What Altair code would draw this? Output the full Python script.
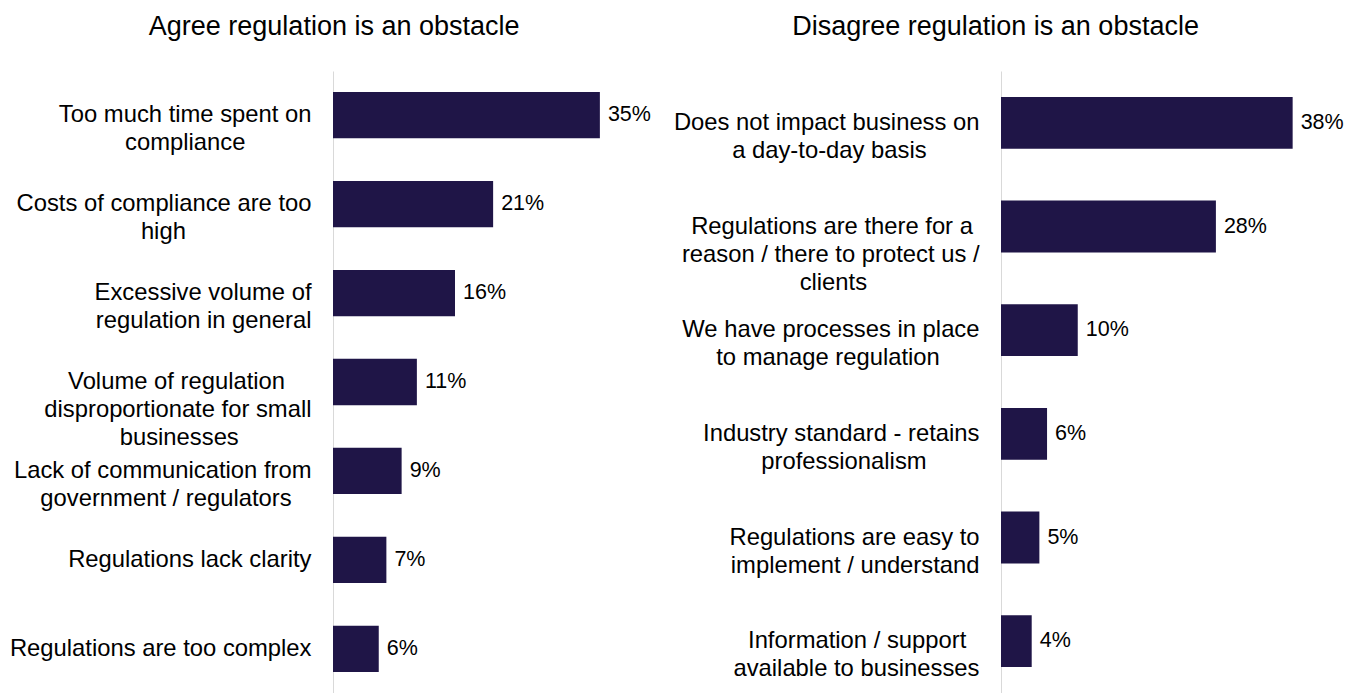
import altair as alt
import pandas as pd

# ---- data ----
agree_title = "Agree regulation is an obstacle"
agree_labels = [
    "Too much time spent on|compliance",
    "Costs of compliance are too|high",
    "Excessive volume of|regulation in general",
    "Volume of regulation|disproportionate for small|businesses",
    "Lack of communication from|government / regulators",
    "Regulations lack clarity",
    "Regulations are too complex",
]
agree_values = [35, 21, 16, 11, 9, 7, 6]

disagree_title = "Disagree regulation is an obstacle"
disagree_labels = [
    "Does not impact business on|a day-to-day basis",
    "Regulations are there for a|reason / there to protect us /|clients",
    "We have processes in place|to manage regulation",
    "Industry standard - retains|professionalism",
    "Regulations are easy to|implement / understand",
    "Information / support|available to businesses",
]
disagree_values = [38, 28, 10, 6, 5, 4]

FONT = "Liberation Sans"
BAR = "#1f1547"
TEXT = "#000000"

# approximate Arial advance widths (per 1000 em) used to centre lines in a right-aligned block
ARIAL = {
    " ": 278, "\u00a0": 278, "a": 556, "b": 556, "c": 500, "d": 556, "e": 556, "f": 278,
    "g": 556, "h": 556, "i": 222, "j": 222, "k": 500, "l": 222, "m": 833, "n": 556,
    "o": 556, "p": 556, "q": 556, "r": 333, "s": 500, "t": 278, "u": 556, "v": 500,
    "w": 722, "x": 500, "y": 500, "z": 500, "A": 667, "B": 667, "C": 722, "D": 722,
    "E": 667, "F": 611, "G": 778, "H": 722, "I": 278, "L": 556, "R": 722, "T": 611,
    "V": 667, "W": 944, "/": 278, "-": 333, "%": 889,
}


def text_w(s):
    return sum(ARIAL.get(c, 556) for c in s)


def center_lines(label):
    # centre each line inside a right-aligned block: pad shorter lines with
    # no-break spaces, closed by a zero-width space so they are not trimmed
    lines = label.split("|")
    W = max(text_w(l) for l in lines)
    out = []
    for l in lines:
        n = int(round((W - text_w(l)) / 2 / 278))
        out.append(l + "\u00a0" * n + ("\u200b" if n else ""))
    return "|".join(out)


def panel(title, labels, values, width, pad_inner, pad_outer, dx):
    cats = [center_lines(l) for l in labels]
    df = pd.DataFrame({"cat": cats, "value": values})
    y = alt.Y(
        "cat:N",
        sort=cats,
        title=None,
        scale=alt.Scale(paddingInner=pad_inner, paddingOuter=pad_outer),
        axis=alt.Axis(
            labelExpr="split(datum.label, '|')",
            labelFont=FONT,
            labelFontSize=23.8,
            labelColor=TEXT,
            labelLineHeight=28,
            labelPadding=22,
            labelLimit=600,
            ticks=False,
            grid=False,
            domainColor="#d9d9d9",
            domainWidth=1,
        ),
    )
    x = alt.X("value:Q", scale=alt.Scale(domain=[0, 40]), axis=None)
    base = alt.Chart(df)
    bars = base.mark_bar(color=BAR).encode(x=x, y=y)
    txt = (
        base.mark_text(align="left", baseline="middle", dx=8, font=FONT, fontSize=21.5, color=TEXT)
        .transform_calculate(lbl="datum.value + '%'")
        .encode(x=x, y=y, text="lbl:N")
    )
    return alt.layer(bars, txt).properties(
        width=width,
        height=622,
        title=alt.TitleParams(
            title,
            font=FONT,
            fontSize=27,
            fontWeight="normal",
            color=TEXT,
            anchor="middle",
            frame="bounds",
            offset=30,
            dx=dx,
        ),
    )


left = panel(agree_title, agree_labels, agree_values, 305, 0.48, 0.236, 4)
right = panel(disagree_title, disagree_labels, disagree_values, 307, 0.5, 0.25, -13)

chart = (
    alt.hconcat(left, right, spacing=363, bounds="flush")
    .properties(padding={"left": 9, "top": 13, "right": 0, "bottom": 0})
    .configure_view(stroke=None)
)

chart.save("out.html", embed_options={"renderer": "svg", "actions": False})
